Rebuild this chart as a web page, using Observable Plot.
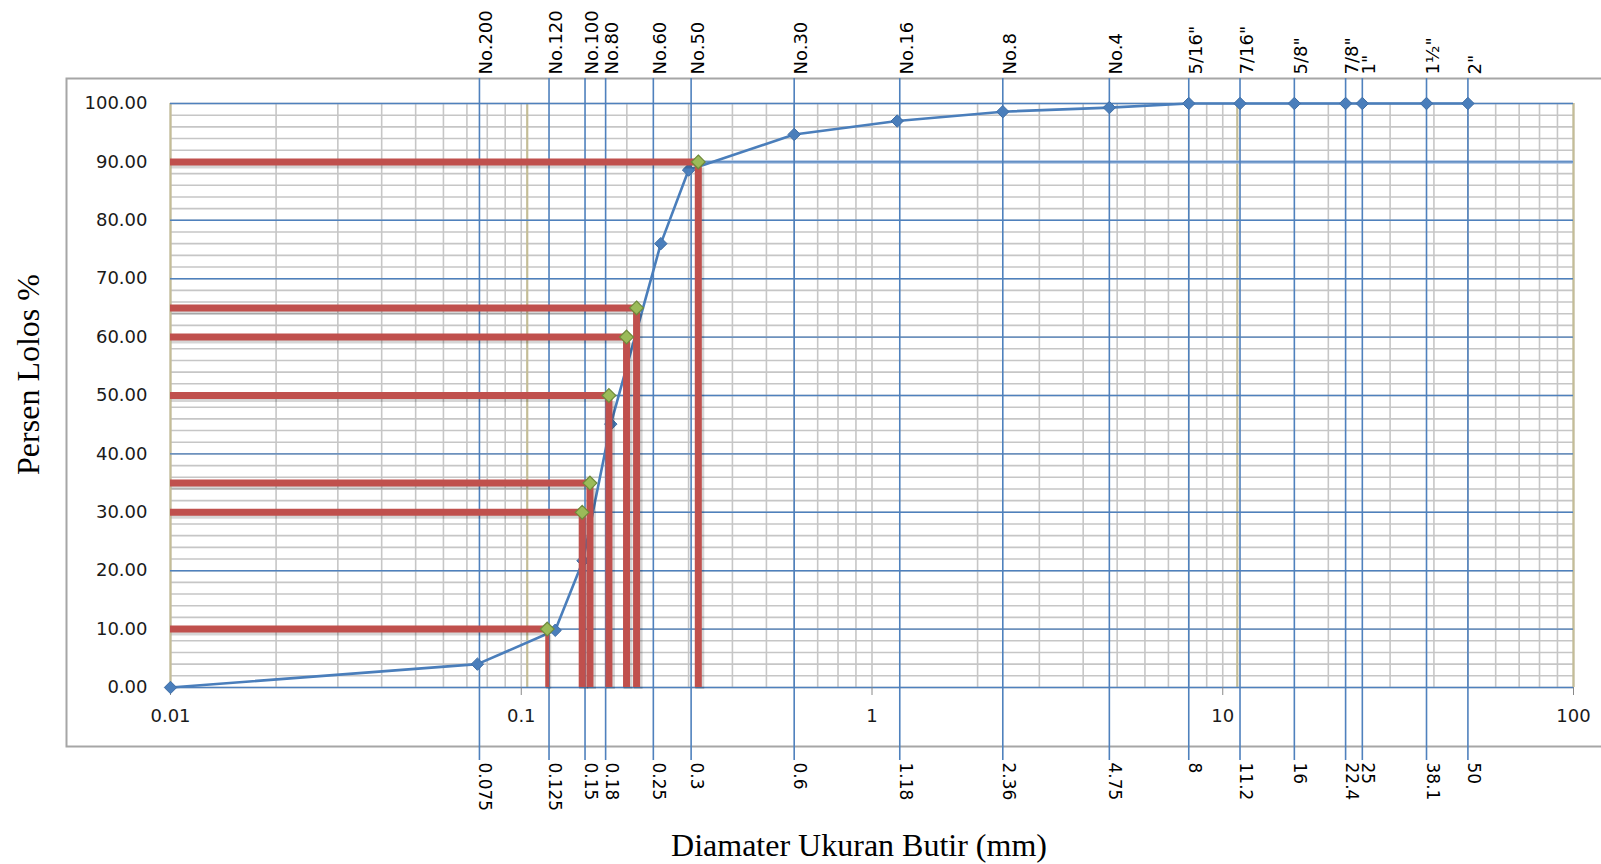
<!DOCTYPE html>
<html>
<head>
<meta charset="utf-8">
<script src="https://cdn.jsdelivr.net/npm/d3@7"></script>
<script src="https://cdn.jsdelivr.net/npm/@observablehq/plot@0.6"></script>
<style>
  html, body { margin: 0; padding: 0; background: #fff; }
  #chart { width: 1601px; height: 864px; overflow: hidden; }
</style>
</head>
<body>
<div id="chart"></div>
<script>
// ---- Data ----
// Gradation curve (sieve size in mm, percent passing)
const grainSizes = [0.01, 0.075, 0.125, 0.15, 0.18, 0.25, 0.3, 0.6, 1.18, 2.36, 4.75, 8, 11.2, 16, 22.4, 25, 38.1, 50];
const percentPassing = [0, 4.0, 9.8, 21.7, 45.1, 76.0, 88.6, 94.7, 97.0, 98.6, 99.3, 100, 100, 100, 100, 100, 100, 100];

// Interpolated characteristic diameters (D10, D30, ...)
const dPercent = [10, 30, 35, 50, 60, 65, 90];
const dSize = [0.1186, 0.1492, 0.157, 0.1778, 0.1996, 0.2132, 0.3197];

// Sieve designations (top), openings (bottom) and where their guide lines sit on the chart
const sieveLinePos = [0.076, 0.12, 0.152, 0.174, 0.238, 0.305, 0.6, 1.2, 2.36, 4.75, 8, 11.2, 16, 22.4, 25, 38.1, 50];
const sieveNames = ["No.200", "No.120", "No.100", "No.80", "No.60", "No.50", "No.30", "No.16", "No.8", "No.4",
  "5/16\"", "7/16\"", "5/8\"", "7/8\"", "1\"", "1½\"", "2\""];
const sieveLabels = ["0.075", "0.125", "0.15", "0.18", "0.25", "0.3", "0.6", "1.18", "2.36", "4.75",
  "8", "11.2", "16", "22.4", "25", "38.1", "50"];

// Axes
const xDomain = [0.01, 100];
const xTicks = [0.01, 0.1, 1, 10, 100];
const xTickLabels = ["0.01", "0.1", "1", "10", "100"];
const yDomain = [0, 100];
const yTicks = [0, 10, 20, 30, 40, 50, 60, 70, 80, 90, 100];
const yTickLabels = ["0.00", "10.00", "20.00", "30.00", "40.00", "50.00", "60.00", "70.00", "80.00", "90.00", "100.00"];
// Secondary-axis (olive) gridlines
const secondaryGrid = [0.01, 0.104, 11.0, 100];

const xTitle = "Diamater Ukuran Butir (mm)";
const yTitle = "Persen Lolos %";

// ---- Derived tables ----
const curve = grainSizes.map((s, i) => ({size: s, pass: percentPassing[i]}));
const dPoints = dPercent.map((p, i) => ({p, d: dSize[i]}));
const sieves = sieveLinePos.map((s, i) => ({pos: s, name: sieveNames[i], label: sieveLabels[i]}));
const decades = [0.01, 0.1, 1, 10];
const minorX = decades.flatMap(d => d3.range(1, 10).map(k => +(k * d).toPrecision(3))).concat([100]);
const minorY = d3.range(0, 101, 2);

const blue = "#4F81BD";
const red = "#C0504D";
const serif = "Liberation Serif, Times New Roman, serif";

const chart = Plot.plot({
  width: 1601,
  height: 864,
  marginLeft: 170,
  marginRight: 28,
  marginTop: 103,
  marginBottom: 177,
  style: {fontFamily: "DejaVu Sans, Verdana, sans-serif", fontSize: "18px", background: "#fff", color: "#1a1a1a"},
  x: {type: "log", domain: xDomain},
  y: {domain: yDomain},
  marks: [
    // outer chart border
    Plot.frame({stroke: "#a6a6a6", strokeWidth: 2, insetLeft: -104, insetTop: -25, insetRight: -40, insetBottom: -59}),
    // minor gridlines
    Plot.ruleX(minorX, {stroke: "#c6c6c6", strokeWidth: 1.6}),
    Plot.ruleY(minorY, {x1: xDomain[0], x2: xDomain[1], stroke: "#c6c6c6", strokeWidth: 1.6}),
    // secondary olive gridlines
    Plot.ruleX(secondaryGrid, {stroke: "#c4bd97", strokeWidth: 2.2}),
    // major horizontal gridlines
    Plot.ruleY([90], {x1: xDomain[0], x2: xDomain[1], stroke: "#a7bfe0", strokeWidth: 3.5}),
    Plot.ruleY(yTicks, {x1: xDomain[0], x2: xDomain[1], stroke: blue, strokeWidth: 1.4}),
    // sieve lines
    Plot.ruleX(sieves, {x: "pos", stroke: blue, strokeWidth: 1.6, insetTop: -25, insetBottom: -73}),
    // axes
    Plot.axisX({ticks: xTicks, tickFormat: (d) => xTickLabels[xTicks.indexOf(d)], tickSize: 8, tickPadding: 14,
      fontSize: 18, stroke: "#888", fill: "#1a1a1a", label: null}),
    Plot.axisY({ticks: yTicks, tickFormat: (d) => yTickLabels[yTicks.indexOf(d)], tickSize: 0, tickPadding: 23,
      fontSize: 18, fill: "#1a1a1a", label: null}),
    // sieve labels
    Plot.text(sieves, {x: "pos", text: "name", frameAnchor: "top", dy: -29, rotate: -90, textAnchor: "start",
      fontSize: 18, fill: "#000"}),
    Plot.text(sieves, {x: "pos", text: "label", frameAnchor: "bottom", dy: 75, rotate: 90, textAnchor: "start",
      fontSize: 17, fill: "#000"}),
    // gradation curve
    Plot.line(curve, {x: "size", y: "pass", stroke: "#4A7EBB", strokeWidth: 2.6}),
    Plot.dot(curve, {x: "size", y: "pass", symbol: "diamond2", r: 5.6, fill: "#4A7EBB", stroke: "#3f6ea6", strokeWidth: 1}),
    // red D-lines with soft shadow
    Plot.ruleY(dPoints, {y: "p", x1: xDomain[0], x2: "d", stroke: "#000", strokeOpacity: 0.16, strokeWidth: 9, dx: 1.5, dy: 2}),
    Plot.ruleX(dPoints, {x: "d", y1: yDomain[0], y2: "p", stroke: "#000", strokeOpacity: 0.16,
      strokeWidth: (d) => d.p === 10 ? 5 : 9, dx: 1.5, dy: 2, insetBottom: -4}),
    Plot.ruleY(dPoints, {y: "p", x1: xDomain[0], x2: "d", stroke: red, strokeWidth: 7}),
    Plot.ruleX(dPoints, {x: "d", y1: yDomain[0], y2: "p", stroke: red,
      strokeWidth: (d) => d.p === 10 ? 4 : 7, insetBottom: -4}),
    Plot.dot(dPoints, {x: "d", y: "p", symbol: "diamond2", r: 6.2, fill: "#9BBB59", stroke: "#6f8b3b", strokeWidth: 1.2}),
    // axis titles
    Plot.text([xTitle], {frameAnchor: "bottom", dx: -13, dy: 158, fontFamily: serif,
      fontSize: 32, fill: "#000", textAnchor: "middle", lineAnchor: "middle"}),
    Plot.text([yTitle], {frameAnchor: "left", dx: -142, dy: -21, rotate: -90, fontFamily: serif,
      fontSize: 32, fill: "#000", textAnchor: "middle", lineAnchor: "middle"})
  ]
});

document.getElementById("chart").appendChild(chart);
</script>
</body>
</html>
